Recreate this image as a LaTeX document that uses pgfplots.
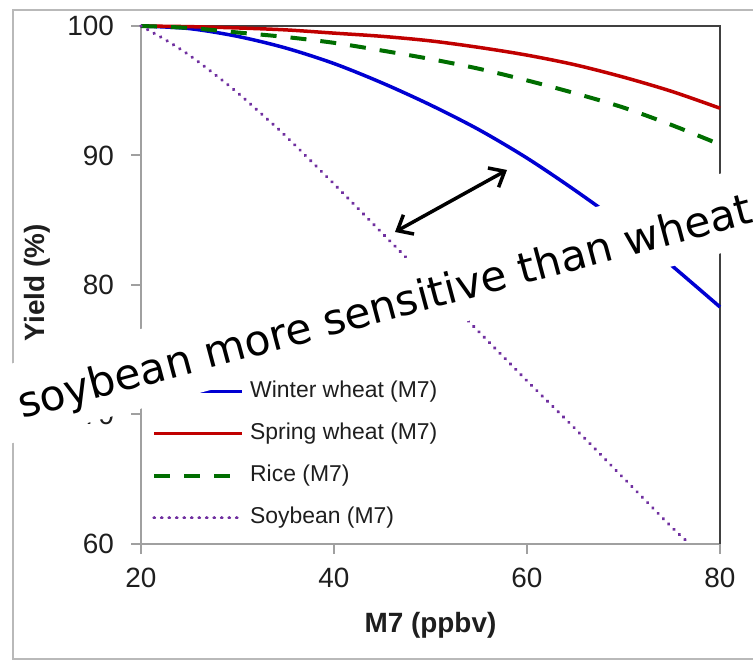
\documentclass[border=0pt]{standalone}
\usepackage{pgfplots}
\pgfplotsset{compat=1.18}
\usepackage{fontspec}
\setmainfont{Liberation Sans}
\newfontfamily\notefont{DejaVu Sans}
\usetikzlibrary{arrows.meta}

\definecolor{wwheat}{RGB}{0,0,210}
\definecolor{swheat}{RGB}{192,0,0}
\definecolor{rice}{RGB}{0,110,0}
\definecolor{soy}{RGB}{112,48,160}
\definecolor{spinelight}{RGB}{160,160,160}
\definecolor{spinedark}{RGB}{64,64,64}
\definecolor{framegray}{RGB}{185,185,185}
\definecolor{txt}{RGB}{30,30,30}

\begin{document}
\begin{tikzpicture}
\useasboundingbox (0,0) rectangle (753bp,662bp);
% slide frame
\draw[framegray, line width=2bp] (13bp,3bp) rectangle (770bp,652bp);
\begin{axis}[
  at={(141bp,118bp)}, anchor=south west,
  scale only axis, width=579bp, height=518bp,
  xmin=20, xmax=80, ymin=60, ymax=100,
  xtick={20,40,60,80}, ytick={60,70,80,90,100},
  xtick pos=bottom, ytick pos=left,
  tick align=outside, major tick length=10bp,
  major tick style={spinelight, line width=2bp},
  axis line style={draw=none},
  clip=false,
  /pgf/number format/assume math mode=true,
  ticklabel style={font=\fontsize{28}{28}\selectfont, text=txt},
  yticklabel style={inner sep=0pt, xshift=-17bp},
  xticklabel style={inner sep=0pt, yshift=-14bp},
  xlabel={\textbf{M7 (ppbv)}}, ylabel={\textbf{Yield (\%)}},
  label style={font=\fontsize{28}{28}\selectfont, text=txt},
  xlabel style={at={(axis description cs:0.5,-0.156)}, anchor=center},
  ylabel style={at={(axis description cs:-0.1796,0.504)}, anchor=center},
  legend style={at={(axis description cs:0.0190,0.3147)}, anchor=north west,
    draw=none, fill=none, inner sep=0pt,
    font=\fontsize{23}{23}\selectfont, text=txt,
    row sep=21bp, column sep=6bp,
    nodes={inner sep=0pt, text height=16bp, text depth=5bp}},
  legend cell align=left,
  legend image code/.code={\draw[#1] (0bp,0bp) -- (88bp,0bp);},
]
% axis frame: light left/bottom, dark top/right
\draw[spinelight, line width=2bp] (rel axis cs:0,1) -- (rel axis cs:0,0) -- (rel axis cs:1,0);
\draw[spinedark, line width=2bp] (rel axis cs:0,1) -- (rel axis cs:1,1) -- (rel axis cs:1,0);

\addplot[wwheat, line width=3.5bp, smooth] coordinates {
  (20,100) (25,99.8) (30,99.2) (35,98.3) (40,97.1) (45,95.6) (50,93.9)
  (55,92.0) (60,89.8) (65,87.3) (70,84.6) (75,81.5) (80,78.3)};
\addlegendentry{Winter wheat (M7)}
\addplot[swheat, line width=3.5bp, smooth] coordinates {
  (20,100) (25,99.95) (30,99.85) (35,99.7) (40,99.45) (45,99.2) (50,98.85)
  (55,98.35) (60,97.75) (65,97.0) (70,96.05) (75,94.95) (80,93.65)};
\addlegendentry{Spring wheat (M7)}
\addplot[rice, line width=4bp, dash pattern=on 16bp off 14bp, smooth] coordinates {
  (20,100) (25,99.85) (30,99.5) (35,99.15) (40,98.7) (45,98.1) (50,97.45)
  (55,96.7) (60,95.8) (65,94.8) (70,93.7) (75,92.35) (80,90.85)};
\addlegendentry{Rice (M7)}
\addplot[soy, line width=3.6bp, line cap=round, dash pattern=on 0.1bp off 7.4bp, smooth] coordinates {
  (20,100) (22.5,98.95) (25,97.75) (27.5,96.35) (30,94.85) (32.5,93.2) (35,91.5)
  (40,87.8) (45,84.0) (50,80.2) (55,76.4) (60,72.6) (65,68.9) (70,65.1)
  (75,61.3) (76.9,60)};
\addlegendentry{Soybean (M7)}
\end{axis}

% annotation on a white box
\node[rotate=15, anchor=base west, fill=white, inner xsep=20bp, inner ysep=6bp,
      text height=50bp, text depth=15bp,
      font=\notefont\fontsize{42.6}{42.6}\selectfont]
  at (2.5bp,238bp) {soybean more sensitive than wheat};
\draw[line width=3.5bp,
      {Straight Barb[length=13bp,width=22bp]}-{Straight Barb[length=13bp,width=22bp]}]
  (395bp,430bp) -- (507bp,492bp);
\end{tikzpicture}
\end{document}
